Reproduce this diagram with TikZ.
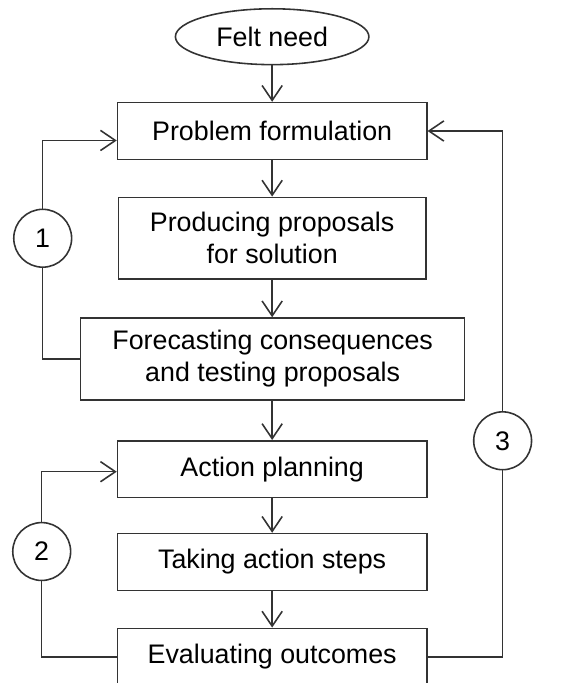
\documentclass[tikz,border=0pt]{standalone}
\usepackage{fontspec}
\setmainfont{Liberation Sans}
\usetikzlibrary{arrows.meta,shapes.geometric,calc}
\begin{document}
\begin{tikzpicture}[x=0.02cm,y=-0.02cm,
  font=\fontsize{15.3}{18.2}\selectfont,
  line width=0.9pt,
  every path/.style={draw=black!80},
  stepbox/.style={draw=black!80, rectangle, align=center, inner sep=0pt, line width=0.9pt},
  loopnum/.style={draw=black!80, circle, inner sep=0pt, minimum size=1.16cm, line width=0.9pt},
  flow/.style={-{Straight Barb[length=8.5pt,width=11.5pt]}, draw=black!80, line width=0.9pt}]
\useasboundingbox (0,0) rectangle (564,683);
\fill[white] (0,0) rectangle (564,683);
\node[draw=black!80, ellipse, inner sep=0pt, minimum width=3.88cm, minimum height=1.12cm, line width=0.9pt] (need) at (272,36) {Felt need};
\node[stepbox, minimum width=6.2cm, minimum height=1.14cm] (prob) at (272,130.5) {Problem formulation};
\node[stepbox, minimum width=6.16cm, minimum height=1.64cm] (prod) at (272,238) {Producing proposals\\for solution};
\node[stepbox, minimum width=7.7cm, minimum height=1.64cm] (fore) at (272.5,359) {Forecasting consequences\\and testing proposals};
\node[stepbox, minimum width=6.2cm, minimum height=1.14cm] (act) at (272,469.5) {Action planning};
\node[stepbox, minimum width=6.2cm, minimum height=1.14cm] (take) at (272,562.5) {Taking action steps};
\node[stepbox, minimum width=6.2cm, minimum height=1.14cm] (eval) at (272,657.5) {Evaluating outcomes};
\node[loopnum] (c1) at (42,238) {1};
\node[loopnum] (c2) at (41,552) {2};
\node[loopnum] (c3) at (503,441) {3};
\draw[flow] (need) -- (prob);
\draw[flow] (prob) -- (prod);
\draw[flow] (prod.south) -- (prod.south |- fore.north);
\draw[flow] (fore.south -| act.north) -- (act.north);
\draw[flow] (act) -- (take);
\draw[flow] (take) -- (eval);
\draw (fore.west) -| (c1.south);
\draw[flow] (c1.north) |- ($(prob.west)+(0,9.5)$);
\draw (eval.west) -| (c2.south);
\draw[flow] (c2.north) |- ($(act.west)+(0,2.5)$);
\draw (eval.east) -| (c3.south);
\draw[flow] (c3.north) |- (prob.east);
\end{tikzpicture}
\end{document}
